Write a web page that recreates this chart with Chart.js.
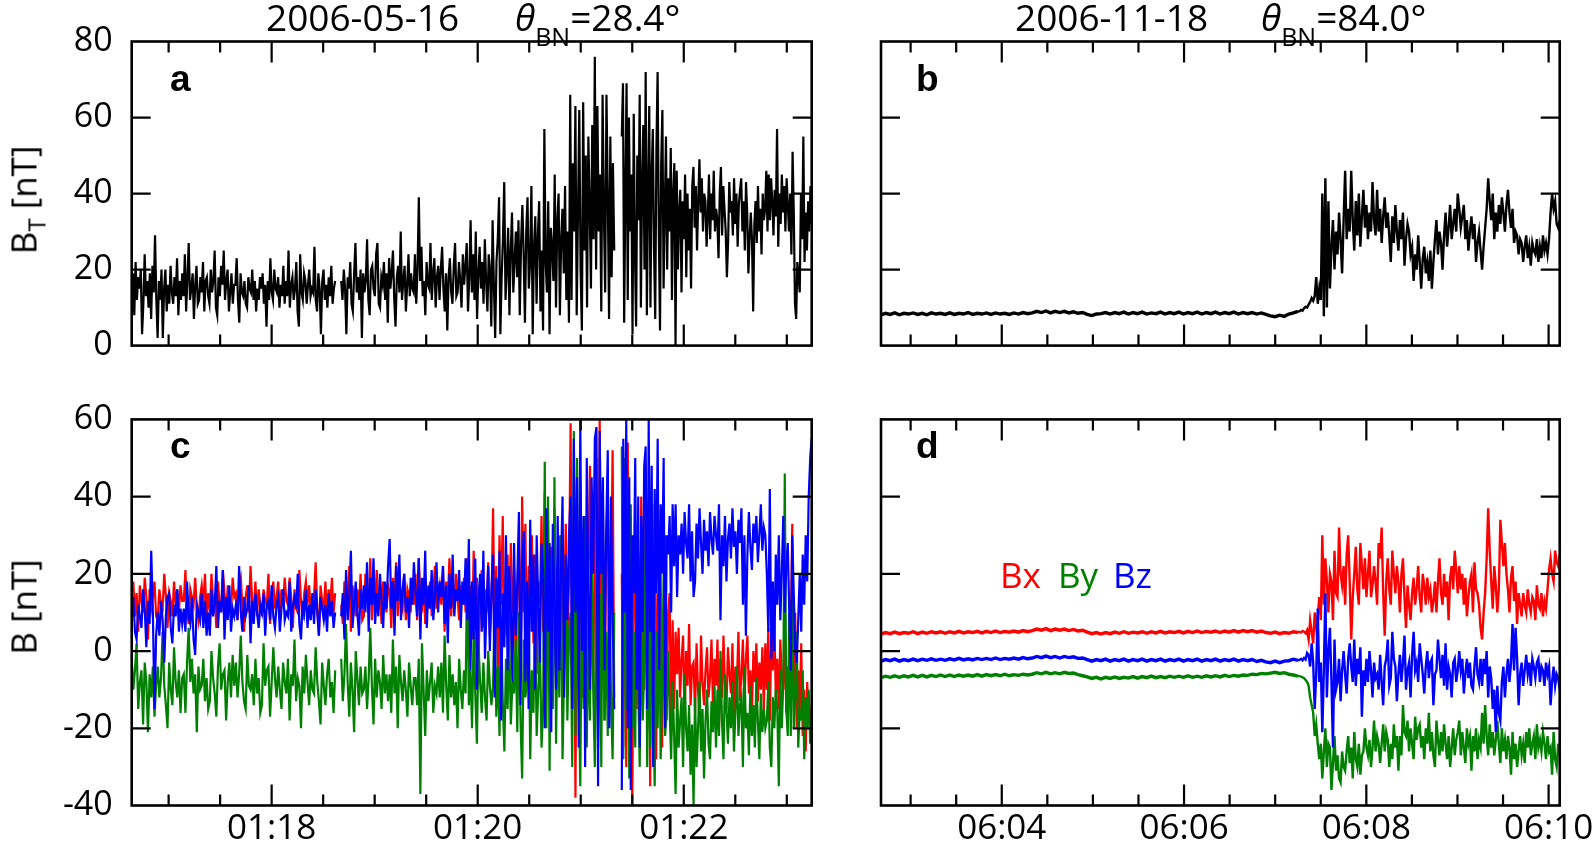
<!DOCTYPE html>
<html><head><meta charset="utf-8">
<script src="https://cdn.jsdelivr.net/npm/chart.js@4.4.1/dist/chart.umd.min.js"></script>
<style>
html,body{margin:0;padding:0;background:#fff;width:1594px;height:848px;overflow:hidden;font-family:"Open Sans","Noto Sans",sans-serif;position:relative;}
canvas{position:absolute;}
.t{position:absolute;white-space:nowrap;line-height:1;color:#000;}
.title{font-size:37px;}
.title sub{font-size:25px;position:relative;top:15px;vertical-align:baseline;}
.lbl{font-family:"Liberation Sans",Arial,sans-serif;font-weight:bold;font-size:37px;}
.yt{font-size:35px;transform:translate(-50%,-50%) rotate(-90deg);}
.yt sub{font-size:24px;position:relative;top:9px;vertical-align:baseline;}
.leg{font-size:35px;}
</style></head>
<body>
<canvas id="cA" width="840" height="385" style="left:0;top:0"></canvas>
<canvas id="cC" width="840" height="468" style="left:0;top:380px"></canvas>
<canvas id="cB" width="760" height="385" style="left:860px;top:0"></canvas>
<canvas id="cD" width="760" height="468" style="left:860px;top:380px"></canvas>

<div class="t title" style="left:266px;top:-2px">2006-05-16</div>
<div class="t title" style="left:515px;top:-2px"><i>θ</i><sub>BN</sub>=28.4°</div>
<div class="t title" style="left:1015px;top:-2px">2006-11-18</div>
<div class="t title" style="left:1261px;top:-2px"><i>θ</i><sub>BN</sub>=84.0°</div>

<div class="t yt" style="left:23px;top:200px">B<sub>T</sub> [nT]</div>
<div class="t yt" style="left:23px;top:607px">B [nT]</div>

<div class="t lbl" style="left:170px;top:60px">a</div>
<div class="t lbl" style="left:916px;top:60px">b</div>
<div class="t lbl" style="left:170px;top:427px">c</div>
<div class="t lbl" style="left:916px;top:427px">d</div>

<div class="t leg" style="left:1000px;top:557px;color:#ff0000">Bx</div>
<div class="t leg" style="left:1058px;top:557px;color:#008000">By</div>
<div class="t leg" style="left:1113px;top:557px;color:#0000ff">Bz</div>

<script>
// ---------- time axes (seconds after the full hour) ----------
const leftRange = [38.5, 434.5];          // 01:16:38.5 – 01:23:14.5
const rightRange = [160.5, 607.3];        // 06:02:40.5 – 06:10:07
const leftSegSpans = [[38.5, 157], [160.5, 319.5], [323.9, 434.5]];
const rightSegSpans = [[160.5, 435], [436, 607.3]];
const leftTickSeconds = [120, 240, 360];
const leftTickLabels = ['01:18', '01:20', '01:22'];
const rightTickSeconds = [240, 360, 480, 600];
const rightTickLabels = ['06:04', '06:06', '06:08', '06:10'];
const quietEnd = 435;   // end of the quiet interval before the shock (panel b, d)

// ---------- panel a : |B| 2006-05-16 ----------
const btA1 = [14,19,8,22,12,18,15,20,3,11,24,13,17,10,19,7,21,14,29,12,
  2,17,12,20,2,15,20,9,16,11,21,14,11,18,13,23,8,17,12,19,
  13,24,9,18,27,12,15,19,7,16,21,11,12,18,14,22,9,17,18,13,
  11,20,14,17,25,10,8,18,13,21,16,25,12,17,20,9,14,19,11,16,
  16,23,12,6,19,14,13,17,11,10,18,15,14,20,12,17,9,15,12,18,
  15,19,11,16,5,17,12,23,14,12,20,15,14,18,10,16,13,21,11,17,
  13,25,10,16,18,12,15,22,9,5,24,14,12,19,17,11,16,20,13,15,
  14,26,12,9,19,15,3,17,20,12,16,10,18,13,21,11,15,17];
const btA2 = [17,12,20,15,3,18,15,22,11,9,19,27,14,18,12,20,
  2,19,14,17,28,12,8,20,21,15,13,24,27,11,10,18,16,22,12,19,
  6,23,15,19,25,12,5,18,21,14,30,12,17,21,9,16,24,13,19,15,
  14,24,11,20,39,17,26,13,17,8,22,16,15,27,12,19,23,10,18,21,
  12,20,26,15,9,19,4,18,23,14,11,21,27,13,14,22,17,10,24,16,
  21,27,9,18,33,14,24,12,30,7,19,26,15,22,11,28,17,9,24,20,
  5,33,16,2,22,28,39,3,18,28,43,12,20,31,8,25,35,14,22,30,
  18,33,8,27,37,24,6,30,39,15,22,42,3,26,34,11,29,38,9,25,
  4,57,22,14,38,3,31,26,17,45,10,33,40,8,28,36,19,42,12,30,
  6,66,12,48,30,63,8,35,62,20,4,64,25,50,10,55,38,15,58,28,
  76,20,63,30,45,9,66,35,14,66,40,7,55,18,48,25];
const btA3 = [55,69,6,40,69,12,60,30,45,3,61,25,5,50,33,66,10,42,58,20,
  72,8,40,63,10,45,57,25,7,52,72,30,4,48,62,15,35,55,20,44,
  30,52,12,40,48,0,46,20,35,41,14,38,28,45,18,40,25,36,15,42,
  47,31,42,25,38,49,35,44,30,40,38,26,34,45,28,40,33,46,30,36,
  33,23,40,47,29,42,36,30,18,27,43,35,38,29,44,32,40,26,37,41,
  44,30,38,25,43,35,19,28,35,28,9,32,38,27,42,30,36,24,40,33,
  36,46,30,45,33,44,38,29,41,34,57,26,40,32,45,35,42,30,44,37,
  30,40,24,51,35,11,7,22,18,14,40,28,55,22,35,25,38,30,42,32];

// ---------- panel c : components 2006-05-16 ----------
const bxC1 = [12,18,9,15,5,17,13,10,19,14,3,16,11,14,18,9,
  8,16,12,11,20,14,6,15,13,9,18,12,16,10,17,13,
  13,21,10,7,16,14,12,19,11,8,14,17,12,20,9,15,
  10,20,13,14,6,18,12,11,21,15,9,17,13,10,19,14,
  15,8,17,19,12,5,14,17,10,22,13,11,18,9,16,12,
  9,16,13,12,20,7,15,18,11,14,18,10,16,12,19,13,
  12,19,14,6,16,11,10,21,13,8,15,18,12,17,10,14,
  14,23,11,4,17,13,11,18,9,16,12,19,10,15];
const byC1 = [-2,-10,-5,2,-15,-8,-5,-19,-3,-8,-21,-6,-12,-4,-17,-9,
  -4,-12,-7,5,-9,-14,-20,-3,-10,-14,1,-8,-12,-5,-16,-7,
  -6,-16,-3,6,-8,-2,-11,-6,-21,-4,-10,-9,-2,-13,-7,-15,
  -13,0,-7,-11,-17,-4,2,-10,-6,-5,-18,-8,-3,-12,-1,-9,
  -3,-12,-6,4,-8,-13,-15,-1,-9,-10,-6,-14,-2,-11,-7,-16,
  -14,2,-9,-5,-4,-17,-8,1,-7,-12,-4,-10,-15,-3,-8,-11,
  -2,-18,-6,-9,3,-13,-7,-9,-20,-4,-11,-1,-8,-14,-5,-10,
  -11,1,-8,-13,-19,-3,-9,-14,-6,-2,-12,-8,-16,-5];
const bzC1 = [8,14,5,3,12,9,6,16,11,1,13,7,26,10,-15,4,
  10,4,13,8,-3,9,14,15,6,2,12,9,16,5,11,7,
  11,5,18,9,7,14,3,-1,12,10,8,15,6,13,4,10,
  4,16,9,12,22,6,13,10,21,3,14,8,17,5,11,9,
  12,8,22,10,5,14,9,11,17,2,13,7,15,10,6,12,
  10,15,4,12,13,8,17,9,6,12,14,5,11,16,8,10,
  9,18,5,12,14,11,20,7,3,13,10,16,6,12,8,15,
  7,16,10,4,14,11,8,12,5,15,9,13,6,10];
const bxC2 = [12,7,18,10,14,22,5,17,13,9,16,11,20,8,
  9,20,14,11,24,8,16,12,21,11,15,7,18,13,10,17,
  15,6,19,12,23,9,17,13,11,20,8,16,14,10,19,12,
  20,8,24,14,10,19,7,16,13,18,9,15,22,11,14,17,
  12,22,5,18,13,24,9,15,11,20,14,8,17,12,19,10,
  24,8,17,3,26,11,19,-2,14,21,6,16,10,23,4,12,
  37,6,22,-5,30,12,35,4,18,25,0,28,10,20,-3,15,
  28,-8,40,10,33,-4,22,14,30,2,25,-6,18,12,35,5,
  41,2,36,-10,27,15,37,5,20,30,-5,24,10,33,0,18,
  59,-15,38,-38,30,8,44,-12,25,35,-20,20,48,5,-8,30,
  50,-20,60,-10,35,-18,25,45,-5,15,52,-12];
const byC2 = [-2,-13,-6,7,-8,-17,-3,-10,-21,0,-7,-14,-4,-11,
  -10,-4,-15,-7,6,-9,-19,-2,-12,-5,-8,-15,-1,-11,-6,-13,
  -6,-16,3,-11,-4,-20,-1,-8,-13,-5,-10,-17,-3,-9,-14,-7,
  -7,-14,-2,-37,2,-10,-22,-5,-13,-8,-3,-16,-9,-11,-4,-12,
  -3,-16,4,-9,-18,-1,-12,-6,-14,-8,-20,-2,-10,-15,-5,-11,
  23,-14,-5,-20,5,-11,-24,2,-8,-16,-3,-12,-18,0,-9,-14,
  -9,12,-17,-4,-22,8,-13,-26,-2,-15,5,-19,-8,-11,3,-21,
  10,-18,-33,3,-12,-8,15,-28,-5,-16,8,-22,-10,2,-25,-14,
  49,-20,40,-31,25,-15,45,-24,10,-12,30,-28,-5,20,-18,5,
  10,-30,57,-22,50,-8,-35,20,-15,35,-25,5,-18,28,-10,-30,
  30,-25,15,-30,38,-18,5,-22,25,-12,-28,10];
const bzC2 = [9,15,3,21,8,14,26,6,12,18,10,4,16,11,
  17,10,23,5,19,12,24,7,15,9,20,13,6,18,11,22,
  29,11,18,4,22,13,25,8,16,20,10,14,6,19,12,23,
  15,9,24,3,19,12,26,6,17,11,21,8,14,23,10,18,
  14,22,7,17,2,20,11,25,9,16,13,21,6,18,12,24,
  8,29,-5,18,3,24,-10,14,20,5,26,-2,12,22,0,16,
  25,-12,19,6,26,-18,15,1,30,-5,22,10,-8,28,4,18,
  36,-14,22,31,-8,18,-15,34,5,25,-10,30,12,-3,28,20,
  -20,37,5,28,-21,33,12,-10,35,-5,20,40,-12,25,8,30,
  40,-15,55,10,45,-25,60,0,35,-30,50,15,-10,45,20,55,
  58,-35,57,20,45,-5,30,52,-20,40,10,-15];
const bxC3 = [20,-25,45,-30,54,-5,35,-40,10,30,-15,25,-22,40,0,-10,
  48,-20,30,-35,25,-8,38,-28,15,-12,20,-25,5,30,-18,10,
  15,-22,8,-15,5,-6,6,-12,-2,4,-18,0,-9,7,-14,-4,
  -3,-16,2,-10,-18,4,-8,-14,-5,1,-12,-7,3,-15,-2,-9,
  3,-20,-2,-12,4,-9,-15,1,-6,-11,2,-17,-4,-8,5,-13,
  -6,3,-14,-2,4,-11,-5,-17,0,-8,2,-13,-3,-10,1,-15,
  2,-10,6,-18,4,-5,8,-12,-2,-15,3,-7,-10,5,-16,-4,
  -8,5,33,-12,10,-20,-5,-15,2,-22,-10,-26,-8,-18,-20,-14];
const byC3 = [53,-28,50,-15,20,-33,38,-20,5,-25,30,-10,-30,15,-18,-5,
  35,-30,10,-25,30,-12,-35,5,-20,15,-28,-8,20,-22,-15,0,
  -15,-28,-8,-22,-37,-10,-25,-18,-12,-30,-6,-20,-26,-14,-32,-19,
  -40,-12,-30,-20,-8,-26,-15,-33,-18,-10,-24,-28,-13,-21,-9,-25,
  -10,-22,0,-18,-28,-6,-15,-24,-12,-20,-8,-26,-16,-4,-22,-14,
  -12,-30,-4,-20,-16,-27,-9,-22,-14,-25,-7,-18,-28,-11,-21,-15,
  -20,-18,-8,-25,-30,-12,-20,-10,-15,-35,-5,-20,-8,46,-15,-22,
  10,-22,15,-20,-12,5,-25,-15,-18,-5,-28,-12,-20,-10,-24,-18];
const bzC3 = [-36,55,10,60,-20,45,-36,30,15,50,-10,40,-25,35,5,48,
  53,-15,60,5,48,-30,42,15,55,-5,38,20,50,-20,30,25,
  35,10,38,22,38,14,30,25,33,20,36,28,24,38,18,31,
  14,18,33,24,37,28,20,34,26,31,22,36,29,25,35,30,
  26,38,8,30,22,35,18,29,33,24,37,27,31,20,34,28,
  37,12,30,4,25,36,27,21,33,28,35,23,30,38,26,32,
  30,20,5,42,-2,18,0,25,12,30,8,20,35,10,22,28,
  10,-5,30,15,0,-3,8,20,5,25,12,30,18,40,50,55];

// ---------- panel b : |B| 2006-11-18 ----------
const btB1 = [8.1,8.5,8.2,8.6,8.1,8.5,8.3,8.6,8.2,8.5,8.1,8.6,8.3,8.5,8.2,8.6,8.2,8.5,8.3,8.7,8.2,8.5,8.3,8.6,8.2,8.6,8.3,8.5,8.2,8.6,8.3,8.7,8.4,
  8.6,9.0,8.7,9.1,8.6,9.0,8.7,9.0,8.6,8.9,8.5,8.7,8.2,
  7.9,8.3,8.4,8.7,8.3,8.7,8.4,8.8,8.3,8.7,8.4,8.8,8.3,8.6,8.4,8.8,8.3,8.7,8.4,8.8,8.3,8.7,8.4,8.8,8.3,8.7,8.4,8.8,8.3,8.7,8.4,8.8,8.3,8.7,8.4,8.7,8.3,8.6,8.2,
  7.8,7.6,8.0,7.7,8.3,8.6,9.0];
const btB2 = [9.0,9.4,9.2,9.8,10.2,10,10.8,11.5,12.5,11.8,13,18,11,15,12,
  40,7.7,44,10,38,15,26,33,20,30,24,35,28,19,33,
  46,28,36,30,46,33,25,38,29,40,26,34,41,31,37,
  28,35,30,43,33,29,41,30,36,27,34,39,31,35,29,
  22,34,27,37,30,25,33,28,35,21,28,32,30,24,26,
  17,24,20,29,22,15,23,26,19,22,17,25,15,22,28,
  33,24,30,27,20,29,35,26,31,37,28,32,36,30,40,
  36,31,34,37,28,33,25,30,34,28,32,22,27,30,25,
  20,26,31,36,44,38,33,40,28,35,30,37,32,39,35,
  30,37,41,35,31,36,27,30,29,24,28,27,22,26,29,
  23,26,21,27,25,24,28,22,26,23,29,25,27,24,28,
  35,40,36,38,32,31,33];

// ---------- panel d : components 2006-11-18 ----------
const bxD1 = [4.4,4.8,4.5,4.9,4.5,4.8,4.6,5.0,4.5,4.9,4.6,5.0,4.7,5.0,4.6,5.0,4.7,5.1,4.7,5.0,4.8,5.1,4.7,5.1,4.8,5.2,4.8,5.1,4.9,5.2,4.9,5.3,5.0,
  5.3,5.7,5.4,5.8,5.3,5.7,5.4,5.7,5.3,5.6,5.2,5.4,4.9,
  4.5,4.8,4.4,4.8,4.5,4.9,4.6,5.0,4.6,4.9,4.7,5.0,4.6,5.0,4.7,5.1,4.7,5.0,4.8,5.1,4.7,5.1,4.8,5.2,4.8,5.1,4.9,5.2,4.8,5.2,4.9,5.3,4.9,5.3,5.0,5.3,4.9,5.2,4.8,
  4.6,4.9,4.5,4.8,4.6,5.0,4.8];
const byD1 = [-6.9,-6.5,-6.8,-6.4,-6.8,-6.4,-6.7,-6.3,-6.7,-6.3,-6.7,-6.3,-6.6,-6.2,-6.6,-6.2,-6.6,-6.2,-6.5,-6.2,-6.5,-6.1,-6.5,-6.1,-6.4,-6.1,-6.4,-6.0,-6.4,-6.1,-6.3,-6.0,-6.2,
  -6.0,-5.6,-5.9,-5.5,-5.9,-5.6,-5.9,-5.5,-5.8,-5.7,-6.1,-6.4,-6.7,
  -7.1,-6.8,-7.2,-6.8,-7.1,-6.7,-7.1,-6.8,-7.0,-6.6,-7.0,-6.6,-6.9,-6.5,-6.9,-6.6,-6.9,-6.5,-6.8,-6.5,-6.8,-6.4,-6.8,-6.5,-6.8,-6.4,-6.7,-6.4,-6.7,-6.3,-6.6,-6.3,-6.5,-6.2,-6.3,-6.0,-6.1,-5.8,-5.9,
  -5.7,-5.5,-5.8,-5.6,-6.0,-6.2,-6.5];
const bzD1 = [-2.6,-2.2,-2.5,-2.1,-2.6,-2.2,-2.5,-2.1,-2.5,-2.1,-2.4,-2.0,-2.4,-2.1,-2.4,-2.0,-2.3,-1.9,-2.3,-2.0,-2.3,-1.9,-2.2,-1.9,-2.2,-1.8,-2.2,-1.9,-2.1,-1.8,-2.1,-1.7,-2.0,
  -1.8,-1.4,-1.7,-1.3,-1.7,-1.4,-1.8,-1.4,-1.7,-1.5,-1.9,-1.8,-2.2,
  -2.6,-2.2,-2.5,-2.1,-2.6,-2.2,-2.5,-2.1,-2.6,-2.2,-2.5,-2.1,-2.6,-2.2,-2.5,-2.1,-2.6,-2.2,-2.5,-2.1,-2.6,-2.2,-2.5,-2.1,-2.6,-2.2,-2.5,-2.1,-2.6,-2.2,-2.5,-2.1,-2.6,-2.2,-2.5,-2.2,-2.7,-2.4,-2.8,
  -3.0,-2.6,-3.0,-2.6,-2.5,-2.1,-2.4];
const bxD2 = [5,4.8,5.2,5,4.6,5.4,3,8,5,2,10,6,9,14,8,
  30,12,24,18,10,20,18,8,26,15,14,32,20,17,22,
  12,25,30,18,3,14,20,27,16,12,28,22,16,24,14,
  20,26,14,17,22,18,12,28,24,32,15,4,18,24,16,
  12,26,20,15,22,18,10,20,24,14,6,17,12,8,15,
  19,12,16,22,14,10,20,17,12,19,14,16,10,13,18,
  10,18,24,15,12,20,14,18,8,19,22,16,26,21,15,
  22,16,20,12,19,9,14,18,20,10,23,16,15,12,6,
  3,10,15,24,37,26,18,11,22,17,10,16,34,28,22,
  28,20,16,10,19,22,13,18,7,15,12,9,15,12,10,
  16,12,10,14,13,8,17,12,11,15,9,13,11,16,21,
  24,20,18,26,23,22,25];
const byD2 = [-6.5,-6.6,-6.8,-7,-7.5,-8,-9,-12,-14,-16,-22,-19,-24,-28,-24,
  -33,-26,-20,-30,-24,-25,-36,-29,-22,-31,-27,-33,-34,-26,-30,
  -31,-26,-22,-29,-25,-33,-21,-28,-30,-24,-32,-27,-26,-20,-25,
  -27,-23,-30,-25,-18,-26,-22,-24,-29,-24,-19,-26,-21,-23,-30,
  -24,-28,-19,-25,-22,-31,-22,-27,-14,-21,-22,-18,-26,-20,-24,
  -28,-17,-23,-20,-19,-25,-22,-28,-20,-24,-16,-26,-21,-27,-30,
  -18,-23,-27,-21,-26,-19,-24,-28,-22,-30,-25,-20,-27,-23,-21,
  -18,-27,-21,-25,-29,-20,-24,-22,-31,-22,-26,-20,-28,-23,-25,
  -16,-24,-14,-22,-27,-19,-25,-21,-27,-23,-18,-24,-29,-20,-26,
  -23,-28,-22,-25,-32,-21,-28,-24,-30,-26,-22,-27,-24,-29,-21,
  -25,-20,-27,-24,-22,-28,-19,-25,-23,-26,-21,-24,-28,-22,-26,
  -25,-32,-21,-28,-30,-24,-27];
const bzD2 = [-2.3,-2,-2.4,-1.8,-2.2,-0.5,-1,-4,2,-3,-15,-6,11,-8,-3,
  -21,-5,15,-12,0,6,-8,-25,3,-10,-8,-2,-13,-5,0,
  -6,-11,-2,2,-4,-8,3,-9,-2,-6,1,-17,-5,-9,-2,
  -8,0,-5,-12,-3,-7,-6,-10,-1,-8,-14,-4,-2,3,-9,
  -7,5,-2,-4,-13,-6,-1,-8,-3,4,-10,-5,-3,-12,-1,
  5,-5,-3,-8,2,-2,-6,-11,-4,0,-7,-3,-2,-14,-6,
  -5,3,-2,-7,-1,-9,2,-10,-4,-6,-12,-3,-2,-8,-5,
  0,-5,-2,-11,-6,-2,-7,-3,-9,-10,-4,1,-6,-8,-2,
  -9,-2,-6,0,-12,-4,-7,-15,-10,-21,-9,-16,-18,-8,-4,
  -12,-6,-2,-8,-3,7,-5,6,-2,-14,-6,-3,-9,-5,-1,
  -6,-3,-9,-2,-4,-7,-3,-2,-8,-4,-5,-9,-3,-6,-4,
  -14,-8,-4,-9,-6,-7,-10];

// ---------- helpers ----------
function segPoints(vals, t0, t1) {
  const n = vals.length;
  return vals.map((v, i) => ({x: t0 + (t1 - t0) * i / (n - 1), y: v}));
}
function joinSegs(segs, spans, gaps) {
  let out = [];
  segs.forEach((s, k) => {
    if (k > 0 && gaps) out.push({x: (spans[k - 1][1] + spans[k][0]) / 2, y: null});
    out = out.concat(segPoints(s, spans[k][0], spans[k][1]));
  });
  return out;
}

const FONT = "'Open Sans','Noto Sans',sans-serif";

const framePlugin = {
  id: 'frame',
  afterDraw(chart) {
    const {ctx, chartArea: {left, right, top, bottom}, scales: {x, y}} = chart;
    ctx.save();
    ctx.strokeStyle = '#000';
    ctx.lineCap = 'butt';
    ctx.lineWidth = 2.2;
    ctx.beginPath();
    x.ticks.forEach(t => {
      const px = x.getPixelForValue(t.value);
      const L = (t.value % 120 === 0) ? 21 : 11;
      ctx.moveTo(px, bottom); ctx.lineTo(px, bottom - L);
      ctx.moveTo(px, top); ctx.lineTo(px, top + L);
    });
    y.ticks.forEach(t => {
      if (t.value <= y.min || t.value >= y.max) return;
      const py = y.getPixelForValue(t.value);
      ctx.moveTo(left, py); ctx.lineTo(left + 19, py);
      ctx.moveTo(right, py); ctx.lineTo(right - 19, py);
    });
    ctx.stroke();
    ctx.lineWidth = 2.6;
    ctx.strokeRect(left, top, right - left, bottom - top);
    ctx.restore();
  }
};

function makePanel(id, cfg) {
  const labelOf = {};
  cfg.tickSec.forEach((s, i) => labelOf[s] = cfg.tickLab[i]);
  return new Chart(document.getElementById(id), {
    type: 'line',
    data: {datasets: cfg.datasets.map(d => ({
      data: d.data, borderColor: d.color, borderWidth: cfg.lw, pointRadius: 0,
      tension: 0, spanGaps: false, fill: false, order: d.order, borderJoinStyle: 'miter',
      segment: cfg.quietLw ? {borderWidth: c => (c.p1.parsed.x <= quietEnd ? cfg.quietLw : cfg.lw)} : undefined
    }))},
    options: {
      responsive: false, animation: false, devicePixelRatio: 1, events: [],
      layout: {padding: {left: 0, right: cfg.padR, top: cfg.padT, bottom: 0}},
      plugins: {legend: {display: false}, tooltip: {enabled: false}},
      scales: {
        x: {
          type: 'linear', min: cfg.xr[0], max: cfg.xr[1],
          grid: {display: false, drawTicks: false}, border: {display: false},
          ticks: {stepSize: 30, autoSkip: false, maxRotation: 0, minRotation: 0, includeBounds: false,
            padding: 3, color: '#000', font: {family: FONT, size: 35},
            callback: (v) => cfg.showX ? (labelOf[v] || '') : ''},
          afterFit: (s) => { s.height = cfg.xh; }
        },
        y: {
          type: 'linear', min: cfg.yr[0], max: cfg.yr[1],
          grid: {display: false, drawTicks: false}, border: {display: false},
          ticks: {stepSize: 20, padding: 19, color: '#000', font: {family: FONT, size: 34},
            callback: (v) => cfg.showY ? String(v) : ''},
          afterFit: (s) => { s.width = cfg.yw; }
        }
      }
    },
    plugins: [framePlugin]
  });
}

makePanel('cA', {
  xr: leftRange, yr: [0, 80], showX: false, showY: true, tickSec: leftTickSeconds, tickLab: leftTickLabels,
  padT: 41.5, padR: 840 - 811.7, yw: 131.7, xh: 385 - 359.7, lw: 2.2,
  datasets: [{data: joinSegs([btA1, btA2, btA3], leftSegSpans, true), color: '#000', order: 0}]
});
makePanel('cC', {
  xr: leftRange, yr: [-40, 60], showX: true, showY: true, tickSec: leftTickSeconds, tickLab: leftTickLabels,
  padT: 408.3 - 380, padR: 840 - 811.7, yw: 131.7, xh: 848 - 805.5, lw: 2.2,
  datasets: [
    {data: joinSegs([bxC1, bxC2, bxC3], leftSegSpans, true), color: '#ff0000', order: 2},
    {data: joinSegs([byC1, byC2, byC3], leftSegSpans, true), color: '#008000', order: 1},
    {data: joinSegs([bzC1, bzC2, bzC3], leftSegSpans, true), color: '#0000ff', order: 0}
  ]
});
makePanel('cB', {
  xr: rightRange, yr: [0, 80], showX: false, showY: false, tickSec: rightTickSeconds, tickLab: rightTickLabels,
  padT: 41.5, padR: 1620 - 1559.7, yw: 881 - 860, xh: 385 - 359.7, lw: 2.4, quietLw: 3.4,
  datasets: [{data: joinSegs([btB1, btB2], rightSegSpans, false), color: '#000', order: 0}]
});
makePanel('cD', {
  xr: rightRange, yr: [-40, 60], showX: true, showY: false, tickSec: rightTickSeconds, tickLab: rightTickLabels,
  padT: 408.3 - 380, padR: 1620 - 1559.7, yw: 881 - 860, xh: 848 - 805.5, lw: 2.4, quietLw: 3.4,
  datasets: [
    {data: joinSegs([bxD1, bxD2], rightSegSpans, false), color: '#ff0000', order: 2},
    {data: joinSegs([byD1, byD2], rightSegSpans, false), color: '#008000', order: 1},
    {data: joinSegs([bzD1, bzD2], rightSegSpans, false), color: '#0000ff', order: 0}
  ]
});
</script>
</body></html>
